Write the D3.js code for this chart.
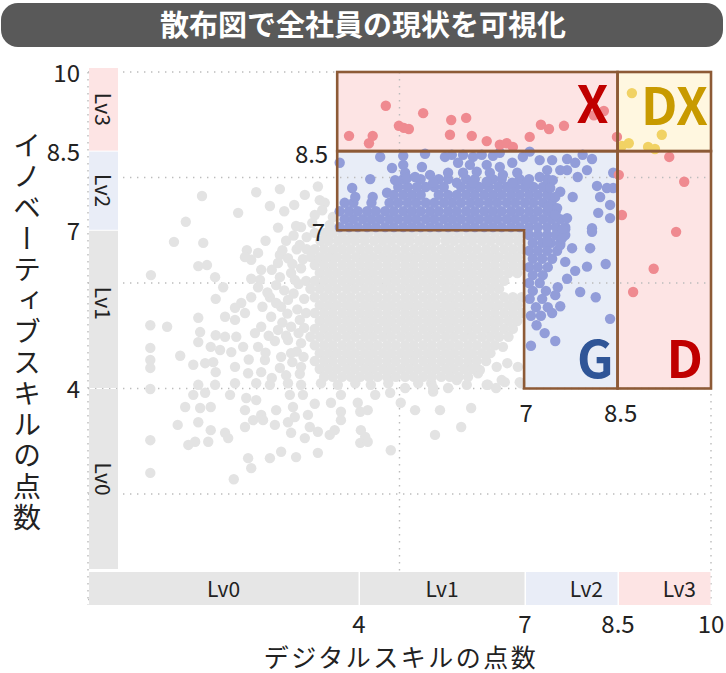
<!DOCTYPE html>
<html>
<head>
<meta charset="utf-8">
<script src="https://cdn.jsdelivr.net/npm/d3@7"></script>
<style>
    body { margin: 0; background: #fff; }
    text { font-family: "Noto Sans CJK JP", "Noto Sans", sans-serif; }
</style>
</head>
<body>
<svg id="chart" width="726" height="673"></svg>
<script>
// ---- data ----
const title = "散布図で全社員の現状を可視化";
const xTitle = "デジタルスキルの点数";
const yTitle = "イノベーティブスキルの点数";
const levels = ["Lv0", "Lv1", "Lv2", "Lv3"];
const levelBounds = [0, 4, 7, 8.5, 10];
const xTicks = [4, 7, 8.5, 10];
const yTicks = [4, 7, 8.5, 10];
const xGrid = [0, 5, 10];
const yGrid = [0, 2, 4, 6, 8, 10];
const regionNames = ["X", "DX", "G", "D"];

// scattered gray points [digital, innovative]
const grayScatter = [
    [1.83,7.65],[2.70,7.72],[3.08,7.78],[2.92,7.46],[3.15,7.36],[3.31,7.48],[2.41,7.33],[1.57,7.16],[1.38,6.78],[1.85,6.76],
    [2.55,6.62],[2.73,6.57],[2.52,6.49],[2.62,6.44],[3.08,6.53],[3.21,6.47],[3.35,6.64],[3.42,7.06],[3.34,7.08],[1.77,6.32],
    [1.91,6.34],[2.78,6.25],[1.01,6.15],[2.04,6.11],[2.62,6.08],[2.76,6.06],[3.08,6.11],[3.26,6.19],[3.42,6.28],[2.17,5.92],
    [2.73,5.92],[3.02,5.96],[3.32,6.06],[2.62,5.73],[2.92,5.73],[2.05,5.70],[2.36,5.53],[2.46,5.62],[2.20,5.36],[2.36,5.30],
    [1.77,5.34],[2.52,5.43],[3.10,5.55],[3.21,5.68],[1.00,5.20],[1.27,5.17],[1.80,5.07],[2.05,5.01],[2.20,4.98],[1.77,4.88],
    [2.38,4.98],[2.78,5.17],[2.94,5.36],[3.05,5.11],[3.26,5.17],[1.97,4.79],[2.12,4.73],[2.30,4.69],[2.49,4.79],[2.73,4.79],
    [1.00,4.77],[1.00,4.54],[1.00,4.39],[1.48,4.62],[1.69,4.45],[1.88,4.48],[2.01,4.50],[2.05,4.31],[2.36,4.41],[2.57,4.29],
    [2.84,4.54],[2.78,4.31],[3.08,4.39],[3.26,4.67],[3.42,4.86],[3.42,4.41],[3.21,4.92],
    [1.00,3.99],[1.77,4.07],[2.04,4.07],[2.36,4.10],[2.70,4.10],[2.92,4.07],[3.21,4.10],[3.42,4.07],[3.74,4.10],[4.01,4.07],
    [4.29,4.10],[4.54,4.07],[4.82,4.10],[5.09,4.01],[5.30,4.10],[5.51,4.10],[5.78,4.01],[6.42,4.07],[6.55,4.01],[6.95,4.10],
    [1.69,3.88],[1.88,3.92],[2.28,3.88],[2.54,3.82],[2.70,3.78],[1.56,3.65],[1.80,3.63],[1.97,3.65],[2.52,3.59],[2.78,3.50],
    [3.02,3.59],[3.24,3.88],[3.29,3.65],[3.45,3.88],[3.64,3.71],[3.90,3.73],[4.06,3.88],[4.06,3.56],[4.33,3.73],[4.49,3.59],
    [4.37,3.56],[4.61,3.88],[4.85,3.92],[5.02,3.73],[5.25,3.59],[5.54,3.94],[5.65,3.59],[6.15,3.63],[1.77,3.36],[1.44,3.31],
    [1.97,3.21],[2.20,3.16],[2.25,3.06],[2.52,3.27],[2.65,3.40],[2.81,3.40],[3.00,3.31],[3.21,3.36],[3.32,3.46],[3.53,3.50],
    [3.56,3.27],[3.69,3.18],[3.96,3.21],[4.06,3.40],[3.26,3.16],[3.48,3.06],[3.88,3.12],[4.38,3.21],[4.45,3.08],[4.37,2.97],
    [4.49,2.99],[5.57,3.12],[5.99,3.27],[4.86,2.83],[1.00,3.02],[1.61,2.93],[1.72,2.99],[1.93,2.99],[2.57,2.68],[2.62,2.49],
    [2.92,2.68],[3.10,2.80],[3.34,2.70],[3.69,2.78],[1.00,2.40],[2.34,2.28],
    [6.66,4.79],[6.73,4.48],[6.90,4.41],[6.93,4.12],[6.69,4.12],[5.54,4.01],[5.92,4.16],[6.29,4.35],[6.56,4.41],[6.08,4.07],
    [6.40,4.07],[6.64,4.16],[6.26,4.29],
    [3.69,7.83],[3.72,7.57],[3.80,7.52],[3.51,6.87],[3.60,7.14],[3.88,7.10],[3.93,6.62],[3.77,6.44],[3.76,7.38],[3.85,6.97],
    [3.93,7.25],[3.48,7.67],[3.64,7.29],
    [3.30,6.90],[3.18,6.80],[3.40,6.72],[3.12,6.62],[3.28,6.36],[3.05,6.38],[3.38,5.98],[3.15,5.86],[3.30,5.80],[3.02,5.62],
    [3.36,5.50],[3.20,5.42],[3.40,5.30],[3.12,5.25],[3.38,5.05],[3.18,5.00],[3.00,4.90],[3.35,4.70],[3.10,4.60],[3.28,4.50],
    [3.40,4.28],[3.18,4.25],[2.95,4.20],[2.85,4.68],[2.90,5.00],[2.80,5.55],[2.95,6.25],[2.85,6.80],[3.05,7.05],[3.45,6.45],
    [2.68,5.05],[2.58,4.55],[2.88,5.82],[3.47,5.70],[3.47,5.15],[3.46,4.60]
];

// dense gray core, read row by row: [innovative, [digital...]]
const grayCoreRows = [
    [6.95, [3.64,3.80,3.93,4.08,4.23,4.37,4.50,4.66,4.80,4.95,5.09,5.22,5.38,5.53,5.67,5.80,5.95,6.11,6.24,6.38,6.53,6.68,6.82,6.96]],
    [6.80, [3.73,3.86,4.01,4.15,4.29,4.44,4.59,4.73,4.87,5.02,5.16,5.31,5.45,5.58,5.74,5.88,6.03,6.17,6.32,6.46,6.61,6.75,6.90]],
    [6.64, [3.51,3.64,3.79,3.94,4.08,4.22,4.37,4.51,4.66,4.80,4.94,5.09,5.24,5.38,5.52,5.67,5.81,5.96,6.10,6.24,6.39,6.53,6.68,6.82,6.96]],
    [6.49, [3.58,3.72,3.86,4.00,4.15,4.30,4.44,4.58,4.73,4.87,5.02,5.16,5.30,5.45,5.59,5.74,5.88,6.02,6.17,6.32,6.46,6.60,6.75,6.89]],
    [6.34, [3.64,3.79,3.93,4.08,4.22,4.37,4.51,4.65,4.80,4.94,5.09,5.23,5.38,5.52,5.67,5.81,5.95,6.10,6.24,6.39,6.53,6.68,6.82,6.96]],
    [6.19, [3.72,3.86,4.00,4.15,4.29,4.44,4.58,4.73,4.87,5.02,5.16,5.30,5.45,5.59,5.74,5.88,6.03,6.17,6.32,6.46,6.60,6.75,6.89]],
    [6.04, [3.50,3.64,3.79,3.93,4.08,4.22,4.37,4.51,4.65,4.80,4.94,5.09,5.23,5.38,5.52,5.67,5.81,5.95,6.10,6.24,6.39,6.53,6.68]],
    [5.89, [3.57,3.72,3.86,4.00,4.15,4.29,4.44,4.58,4.73,4.87,5.02,5.16,5.30,5.45,5.59,5.74,5.88,6.03,6.17,6.32,6.46,6.60]],
    [5.73, [3.64,3.79,3.93,4.08,4.22,4.37,4.51,4.65,4.80,4.94,5.09,5.23,5.38,5.52,5.67,5.81,5.95,6.10,6.24,6.39,6.53,6.68,6.82,6.96]],
    [5.58, [3.72,3.86,4.00,4.15,4.29,4.44,4.58,4.73,4.87,5.02,5.16,5.30,5.45,5.59,5.74,5.88,6.03,6.17,6.32,6.46,6.60,6.75,6.89]],
    [5.43, [3.50,3.64,3.79,3.93,4.08,4.22,4.37,4.51,4.65,4.80,4.94,5.09,5.23,5.38,5.52,5.67,5.81,5.95,6.10,6.24,6.39,6.53,6.68,6.82,6.96]],
    [5.28, [3.72,3.86,4.00,4.15,4.29,4.44,4.58,4.73,4.87,5.02,5.16,5.30,5.45,5.59,5.74,5.88,6.03,6.17,6.32,6.46,6.60,6.75,6.89]],
    [5.13, [3.64,3.79,3.93,4.08,4.22,4.37,4.51,4.65,4.80,4.94,5.09,5.23,5.38,5.52,5.67,5.81,5.95,6.10,6.24,6.39,6.53,6.68,6.82]],
    [4.98, [3.57,3.72,3.86,4.00,4.15,4.29,4.44,4.58,4.73,4.87,5.02,5.16,5.30,5.45,5.59,5.74,5.88,6.03,6.17,6.32,6.46,6.60,6.75]],
    [4.82, [3.64,3.79,3.93,4.08,4.22,4.37,4.51,4.65,4.80,4.94,5.09,5.23,5.38,5.52,5.67,5.81,5.95,6.10,6.24,6.39,6.53]],
    [4.67, [3.72,3.86,4.00,4.15,4.29,4.44,4.58,4.73,4.87,5.02,5.16,5.30,5.45,5.59,5.74,5.88,6.03,6.17,6.32,6.46]],
    [4.52, [3.64,3.79,3.93,4.08,4.22,4.37,4.51,4.65,4.80,4.94,5.09,5.23,5.38,5.52,5.67,5.81,5.95,6.10,6.24,6.39]],
    [4.37, [3.72,3.86,4.00,4.15,4.29,4.44,4.58,4.73,4.87,5.02,5.16,5.30,5.45,5.59,5.74,5.88,6.03,6.17]],
    [4.22, [3.79,3.93,4.08,4.22,4.37,4.51,4.65,4.80,4.94,5.09,5.23,5.38,5.52,5.67,5.81,5.95,6.10]]
];

// dense blue band above 7
const blueBandRows = [
    [7.06, [4.04,4.19,4.33,4.48,4.62,4.77,4.91,5.06,5.20,5.34,5.49,5.63,5.78,5.92,6.07,6.21,6.36,6.50,6.64,6.79,6.93,7.08,7.22,7.37,7.51,7.66]],
    [7.21, [4.12,4.26,4.41,4.55,4.69,4.84,4.98,5.13,5.27,5.42,5.56,5.71,5.85,5.99,6.14,6.28,6.43,6.57,6.72,6.86,7.01,7.15,7.30,7.44,7.58]],
    [7.36, [4.04,4.19,4.33,4.48,4.62,4.77,4.91,5.06,5.20,5.34,5.49,5.63,5.78,5.92,6.07,6.21,6.36,6.50,6.64,6.79,6.93,7.08,7.22,7.37,7.51]],
    [7.52, [4.12,4.26,4.55,4.84,4.98,5.13,5.27,5.42,5.56,5.71,5.85,5.99,6.14,6.28,6.43,6.57,6.72,6.86,7.01,7.15,7.30,7.44]],
    [7.67, [4.91,5.06,5.20,5.34,5.63,5.78,5.92,6.07,6.21,6.36,6.50,6.64,6.79,6.93,7.08,7.22,7.37]],
    [7.82, [4.98,5.13,5.42,5.56,5.71,5.99,6.14,6.28,6.43,6.72,6.86,7.01,7.15,7.30]],
    [7.97, [5.06,5.34,5.63,5.78,6.07,6.21,6.50,6.64,6.93,7.08,7.37]]
];

const blueScatter = [
    [4.04,8.28],[4.53,7.97],[4.24,7.80],[4.29,7.63],[4.57,7.63],[4.80,7.71],[4.88,8.18],[5.06,8.24],[5.09,8.09],[5.36,8.20],
    [4.93,7.95],[5.12,7.99],[5.25,8.01],[5.49,8.05],[5.54,7.90],[5.28,7.82],[5.73,8.39],[5.84,8.43],[6.02,8.43],[6.18,8.39],
    [6.32,8.43],[6.50,8.41],[5.94,8.28],[6.13,8.24],[6.40,8.24],[6.61,8.20],[6.81,8.28],[6.98,8.39],[5.78,8.09],[6.02,8.09],
    [6.24,8.11],[6.45,8.09],[6.66,8.05],[6.89,8.09],[5.92,7.90],[6.18,7.90],[6.40,7.92],[6.58,7.82],[6.81,7.90],[7.05,7.90],
    [7.69,8.35],[7.82,8.28],[7.94,8.43],[8.09,8.35],[8.01,8.14],[7.86,8.01],[7.69,8.14],[7.58,8.14],[7.45,8.33],[7.25,8.33],
    [7.37,8.14],[7.25,8.01],[7.46,7.95],[7.42,7.80],[7.58,7.73],[7.50,7.63],[7.78,7.63],[8.17,7.84],[8.33,7.80],[8.43,7.80],
    [8.22,7.63],[8.38,7.48],[8.19,7.33],[8.38,7.23],[8.09,7.04],[8.43,8.09],[7.66,7.02],[7.69,7.23],[7.53,7.42],[6.61,8.47],
    [7.09,8.49],[5.06,8.41],[4.69,8.39],[5.41,8.45],
    [7.08,6.91],[7.22,6.91],[7.37,6.91],[7.51,6.91],[7.66,6.91],[7.14,6.76],[7.29,6.76],[7.43,6.76],[7.58,6.76],[7.08,6.61],
    [7.22,6.61],[7.37,6.61],[7.53,6.61],[7.14,6.46],[7.29,6.46],[7.45,6.46],[7.08,6.30],[7.22,6.30],[7.38,6.30],[7.14,6.15],
    [7.30,6.15],[7.08,6.00],[7.25,6.00],[7.14,5.85],[7.35,5.85],[7.09,5.70],[7.29,5.70],[7.19,5.54],[7.38,5.54],[7.11,5.38],
    [7.27,5.38],[7.20,5.20],[7.33,5.05],
    [8.09,6.97],[8.06,6.66],[7.77,6.66],[7.58,6.72],[7.66,6.40],[7.82,6.23],[8.01,6.31],[8.31,6.36],[7.69,6.08],[7.90,5.83],
    [8.15,5.73],[7.54,5.92],[7.50,5.77],[7.58,5.56],[7.45,5.43],[8.38,5.32],[7.50,4.90],[7.11,4.81],[7.38,7.44],[7.50,7.29],
    [7.62,7.02],[7.61,6.85],[7.37,6.78]
];

const redPoints = [
    [4.19,8.79],[4.51,8.65],[4.57,8.79],[4.78,9.36],[4.99,8.98],[5.07,8.94],[5.15,8.92],[5.38,9.22],[5.83,9.09],[6.07,9.13],
    [5.81,8.81],[6.16,8.79],[6.40,8.69],[6.61,8.62],[6.72,8.65],[6.82,8.58],[7.09,8.77],[7.27,9.00],[7.40,8.92],[7.64,8.98],
    [8.12,9.18],[8.28,9.26],[8.49,8.77],
    [8.52,8.05],[9.33,8.39],[9.57,7.92],[8.57,7.29],[9.44,6.97],[9.08,6.27],[8.75,5.83]
];

const yellowPoints = [[8.73,9.60],[8.57,8.60],[8.68,8.65],[8.99,8.58],[9.10,8.54],[9.21,8.81]];

// ---- chart ----
const svg = d3.select("#chart");
const plotBottom = 569;
const numFont = "Lato, 'Noto Sans', sans-serif";

let x = d3.scaleLinear().domain([0, 10]).range([88, 711]);
let y = d3.scaleLinear().domain([0, 10]).range([599.5, 72]);
// the level bar under the chart is drawn a bit off the data scale in the original
let xBar = d3.scaleLinear().domain(levelBounds).range([88, 359, 525, 618, 711]);

// title banner
svg.append("rect")
    .attr("x", 1).attr("y", 3)
    .attr("width", 722).attr("height", 44)
    .attr("rx", 17)
    .attr("fill", "#595959");
svg.append("text")
    .attr("x", 363).attr("y", 26)
    .attr("dy", "0.36em")
    .attr("text-anchor", "middle")
    .attr("fill", "#fff")
    .attr("font-size", 29)
    .attr("font-weight", "bold")
    .text(title);

// region fills
let pink = "#fde4e4";
svg.append("rect").attr("x", x(4)).attr("y", y(10))
    .attr("width", x(8.5) - x(4)).attr("height", y(8.5) - y(10)).attr("fill", pink);
svg.append("rect").attr("x", x(8.5)).attr("y", y(10))
    .attr("width", x(10) - x(8.5)).attr("height", y(8.5) - y(10)).attr("fill", "#fff7e0");
svg.append("rect").attr("x", x(8.5)).attr("y", y(8.5))
    .attr("width", x(10) - x(8.5)).attr("height", y(4) - y(8.5)).attr("fill", pink);
let gPath = "M" + x(4) + "," + y(8.5) + "H" + x(8.5) + "V" + y(4) + "H" + x(7) + "V" + y(7) + "H" + x(4) + "Z";
svg.append("path").attr("d", gPath).attr("fill", "#e8edf7");

// grid
let grid = svg.append("g").attr("stroke", "#bcbcbc").attr("stroke-width", 1.4).attr("stroke-dasharray", "1.4,5.6");
grid.selectAll(".gx").data(xGrid).enter().append("line")
    .attr("x1", d => x(d)).attr("x2", d => x(d))
    .attr("y1", y(10)).attr("y2", y(0) + 5);
grid.selectAll(".gy").data(yGrid).enter().append("line")
    .attr("x1", x(0)).attr("x2", x(10))
    .attr("y1", d => y(d)).attr("y2", d => y(d));

// points
let gray = grayScatter.concat(grayCoreRows.flatMap(r => r[1].map(v => [v, r[0]])));
let blue = blueBandRows.flatMap(r => r[1].map(v => [v, r[0]])).concat(blueScatter);

function drawPoints(data, color) {
    svg.append("g").selectAll("circle").data(data).enter().append("circle")
        .attr("cx", d => x(d[0]))
        .attr("cy", d => y(d[1]))
        .attr("r", 5.2)
        .attr("fill", color);
}
drawPoints(gray, "#e3e3e3");
drawPoints(blue, "#929dd9");
drawPoints(redPoints, "#ef8a90");
drawPoints(yellowPoints, "#f1d264");

// region outlines
let boxes = svg.append("g").attr("fill", "none").attr("stroke", "#8d5a36").attr("stroke-width", 2.6);
boxes.append("rect").attr("x", x(4)).attr("y", y(10))
    .attr("width", x(8.5) - x(4)).attr("height", y(8.5) - y(10));
boxes.append("rect").attr("x", x(8.5)).attr("y", y(10))
    .attr("width", x(10) - x(8.5)).attr("height", y(8.5) - y(10));
boxes.append("rect").attr("x", x(8.5)).attr("y", y(8.5))
    .attr("width", x(10) - x(8.5)).attr("height", y(4) - y(8.5));
boxes.append("path").attr("d", gPath);

// region letters
let regionLabels = [
    {name: regionNames[0], x: x(8.5) - 9, y: y(8.5) - 28, color: "#c00000"},
    {name: regionNames[1], x: x(10) - 3, y: y(8.5) - 26, color: "#c89a00"},
    {name: regionNames[2], x: x(8.5) - 4, y: y(4) - 11, color: "#2f5597"},
    {name: regionNames[3], x: x(10) - 8, y: y(4) - 11, color: "#c00000"}
];
svg.append("g").selectAll("text").data(regionLabels).enter().append("text")
    .attr("x", d => d.x).attr("y", d => d.y)
    .attr("text-anchor", "end")
    .attr("font-family", "'Noto Sans', sans-serif")
    .attr("font-size", 51)
    .attr("font-weight", 600)
    .attr("fill", d => d.color)
    .text(d => d.name);

// level bars
let levelColors = ["#e6e6e6", "#e6e6e6", "#e9edf7", "#fde4e4"];
let segs = levels.map((l, i) => ({name: l, lo: levelBounds[i], hi: levelBounds[i + 1], color: levelColors[i], i: i}));

let bottomBar = svg.append("g");
bottomBar.selectAll("rect").data(segs).enter().append("rect")
    .attr("x", d => xBar(d.lo) + 1)
    .attr("y", 572)
    .attr("width", d => xBar(d.hi) - xBar(d.lo) - 1.5)
    .attr("height", 33)
    .attr("fill", d => d.color);
bottomBar.selectAll("text").data(segs).enter().append("text")
    .attr("x", d => d.i < 2 ? (xBar(d.lo) + xBar(d.hi)) / 2 : xBar(d.hi) - 15)
    .attr("y", 589)
    .attr("dy", "0.36em")
    .attr("text-anchor", d => d.i < 2 ? "middle" : "end")
    .attr("font-size", 21)
    .attr("fill", "#222")
    .text(d => d.name);

let leftBar = svg.append("g");
let segTop = d => d.hi == 10 ? y(10) - 4 : y(d.hi) + 0.5;
let segBottom = d => d.lo == 0 ? plotBottom : y(d.lo) - 0.5;
leftBar.selectAll("rect").data(segs).enter().append("rect")
    .attr("x", 89)
    .attr("y", segTop)
    .attr("width", 29)
    .attr("height", d => segBottom(d) - segTop(d))
    .attr("fill", d => d.color);
leftBar.selectAll("text").data(segs).enter().append("text")
    .attr("transform", d => "translate(103," + ((segTop(d) + segBottom(d)) / 2 - (d.i == 1 ? 6 : 0)) + ") rotate(90)")
    .attr("dy", "0.36em")
    .attr("text-anchor", "middle")
    .attr("font-size", 21)
    .attr("fill", "#222")
    .text(d => d.name);

// tick labels
let tickSize = 24;
svg.append("g").selectAll("text").data(xTicks).enter().append("text")
    .attr("x", d => xBar(d))
    .attr("y", 632.5)
    .attr("text-anchor", "middle")
    .attr("font-family", numFont)
    .attr("font-size", tickSize)
    .attr("fill", "#222")
    .text(d => d);
svg.append("g").selectAll("text").data(yTicks).enter().append("text")
    .attr("x", 80)
    .attr("y", d => y(d) + 1)
    .attr("dy", "0.36em")
    .attr("text-anchor", "end")
    .attr("font-family", numFont)
    .attr("font-size", tickSize)
    .attr("fill", "#222")
    .text(d => d);

// thresholds written next to the G region
let inner = svg.append("g").attr("font-size", tickSize).attr("font-family", numFont).attr("fill", "#222");
inner.append("text").attr("x", x(4) - 9).attr("y", y(8.5) + 3).attr("dy", "0.36em")
    .attr("text-anchor", "end").text(yTicks[2]);
inner.append("text").attr("x", x(4) - 12).attr("y", y(7) + 2).attr("dy", "0.36em")
    .attr("text-anchor", "end").text(yTicks[1]);
inner.append("text").attr("x", x(7) + 2).attr("y", y(4) + 25).attr("dy", "0.36em")
    .attr("text-anchor", "middle").text(xTicks[1]);
inner.append("text").attr("x", x(8.5) + 3).attr("y", y(4) + 25).attr("dy", "0.36em")
    .attr("text-anchor", "middle").text(xTicks[2]);

// axis titles
svg.append("text")
    .attr("x", 401).attr("y", 666.8)
    .attr("text-anchor", "middle")
    .attr("font-size", 25)
    .attr("letter-spacing", 2.5)
    .attr("fill", "#222")
    .text(xTitle);
svg.append("text")
    .attr("x", 27).attr("y", 333)
    .attr("text-anchor", "middle")
    .style("writing-mode", "vertical-rl")
    .attr("font-size", 28)
    .attr("letter-spacing", 3)
    .attr("fill", "#222")
    .text(yTitle);
</script>
</body>
</html>
